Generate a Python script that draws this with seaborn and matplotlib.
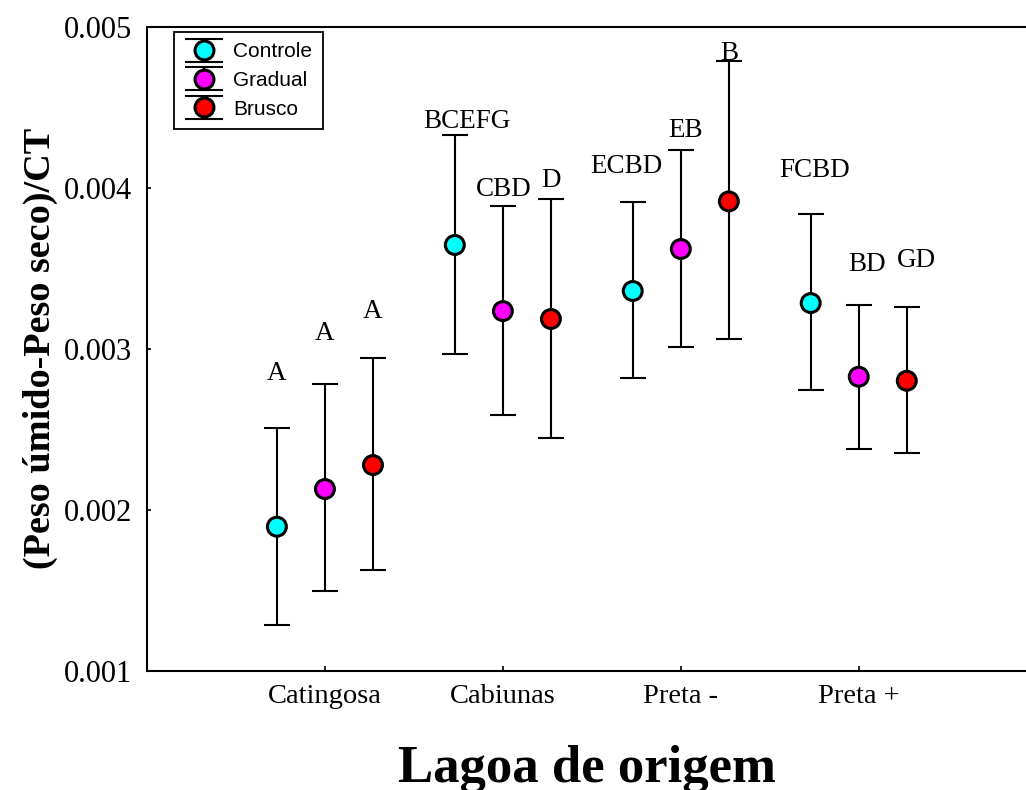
import numpy as np
import pandas as pd
import matplotlib
matplotlib.use("Agg")
import matplotlib.pyplot as plt
import seaborn as sns
from matplotlib.lines import Line2D
from matplotlib.container import ErrorbarContainer
from matplotlib.legend_handler import HandlerErrorbar, HandlerTuple

# ---- data -------------------------------------------------------------
lagoas = ["Catingosa", "Cabiunas", "Preta -", "Preta +"]
tratamentos = ["Controle", "Gradual", "Brusco"]

media_controle = [0.001894, 0.003645, 0.003359, 0.003284]
sup_controle = [0.002505, 0.004328, 0.003910, 0.003835]
inf_controle = [0.001283, 0.002965, 0.002820, 0.002745]

media_gradual = [0.002128, 0.003234, 0.003620, 0.002826]
sup_gradual = [0.002779, 0.003887, 0.004233, 0.003274]
inf_gradual = [0.001494, 0.002588, 0.003011, 0.002375]

media_brusco = [0.002277, 0.003185, 0.003916, 0.002801]
sup_brusco = [0.002944, 0.003930, 0.004788, 0.003257]
inf_brusco = [0.001625, 0.002443, 0.003058, 0.002350]

letras_controle = ["A", "BCEFG", "ECBD", "FCBD"]
letras_gradual = ["A", "CBD", "EB", "BD"]
letras_brusco = ["A", "D", "B", "GD"]

y_ticks = [0.001, 0.002, 0.003, 0.004, 0.005]

# ---- layout / style ----------------------------------------------------
cores = {"Controle": "#00FFFF", "Gradual": "#FF00FF", "Brusco": "#FF0000"}
deslocamento = {"Controle": -0.27, "Gradual": 0.0, "Brusco": 0.27}
# offsets (points) of the letter labels from the top whisker
letra_dx = {"Controle": [0, 8.6, -4.3, 2.9],
            "Gradual": [0, 0.7, 3.6, 5.8],
            "Brusco": [0, 0, 0.7, 7.2]}
letra_dy = {"Controle": [34.6, 5.0, 21.0, 27.0],
            "Gradual": [31.7, 7.2, 9.8, 24.5],
            "Brusco": [28.8, 8.6, 0.7, 29.2]}

medias = {"Controle": media_controle, "Gradual": media_gradual, "Brusco": media_brusco}
sups = {"Controle": sup_controle, "Gradual": sup_gradual, "Brusco": sup_brusco}
infs = {"Controle": inf_controle, "Gradual": inf_gradual, "Brusco": inf_brusco}
letras = {"Controle": letras_controle, "Gradual": letras_gradual, "Brusco": letras_brusco}

linhas = []
for t in tratamentos:
    for i, lag in enumerate(lagoas):
        linhas.append({"lagoa": lag, "tratamento": t,
                       "pos": i + deslocamento[t],
                       "media": medias[t][i], "sup": sups[t][i], "inf": infs[t][i],
                       "letra": letras[t][i],
                       "dx": letra_dx[t][i], "dy": letra_dy[t][i]})
df = pd.DataFrame(linhas)

sns.set_theme(style="ticks")
plt.rcParams["font.family"] = ["Liberation Serif", "DejaVu Serif"]
plt.rcParams["text.color"] = "black"
plt.rcParams["axes.labelcolor"] = "black"
plt.rcParams["xtick.color"] = "black"
plt.rcParams["ytick.color"] = "black"

W, H = 1026, 790
fig = plt.figure(figsize=(W / 100, H / 100), dpi=100)
ax_left, ax_right, ax_top, ax_bottom = 147, 1026, 27, 670.5
ax = fig.add_axes([ax_left / W, 1 - ax_bottom / H,
                   (ax_right - ax_left) / W, (ax_bottom - ax_top) / H])

MS_PT = 13.6
MEW = 2.2

containers = {}
for t in tratamentos:
    d = df[df["tratamento"] == t]
    err = [d["media"] - d["inf"], d["sup"] - d["media"]]
    containers[t] = ax.errorbar(d["pos"], d["media"], yerr=err, fmt="none",
                                ecolor="black", elinewidth=1.5, capsize=9.4,
                                capthick=1.5, zorder=2)

sns.scatterplot(data=df, x="pos", y="media", hue="tratamento",
                hue_order=tratamentos, palette=cores, s=MS_PT ** 2,
                edgecolor="black", linewidth=MEW, legend=False, ax=ax, zorder=3)

for _, r in df.iterrows():
    ax.annotate(r["letra"], xy=(r["pos"], r["sup"]), xytext=(r["dx"], r["dy"]),
                textcoords="offset points", ha="center", va="baseline",
                fontsize=19.5, color="black")

ax.set_xlim(-1.0, 3.94)
ax.set_ylim(0.001, 0.005)
ax.set_xticks(range(len(lagoas)))
ax.set_xticklabels(lagoas)
ax.set_yticks(y_ticks)
ax.set_yticklabels([f"{v:.3f}" for v in y_ticks])
ax.tick_params(axis="x", direction="in", length=3.5, width=1.2, labelsize=20.5,
               pad=10, colors="black")
ax.tick_params(axis="y", direction="in", length=3, width=1.2, labelsize=22,
               pad=11, colors="black")
for side in ["left", "top", "bottom"]:
    ax.spines[side].set_linewidth(1.5)
    ax.spines[side].set_color("black")
ax.spines["right"].set_visible(False)
ax.set_facecolor("white")

ax.set_xlabel("Lagoa de origem", fontsize=38, fontweight="bold")
ax.set_ylabel("(Peso úmido-Peso seco)/CT", fontsize=27.5, fontweight="bold")
ax.xaxis.label.set_va("baseline")
ax.yaxis.label.set_va("center")
ax.xaxis.set_label_coords(0.5, (ax_bottom - 782) / (ax_bottom - ax_top))
ax.yaxis.set_label_coords((40 - ax_left) / (ax_right - ax_left), 0.5)


class CapLargo(HandlerErrorbar):
    def create_artists(self, *args, **kwargs):
        artists = super().create_artists(*args, **kwargs)
        for a in artists:
            if isinstance(a, Line2D) and a.get_marker() == "_":
                a.set_markersize(27)
        return artists


handles = []
for t in tratamentos:
    marcador = Line2D([], [], linestyle="none", marker="o", markersize=MS_PT,
                      markerfacecolor=cores[t], markeredgecolor="black",
                      markeredgewidth=MEW)
    handles.append((containers[t], marcador))

leg = ax.legend(handles, tratamentos,
                handler_map={tuple: HandlerTuple(ndivide=1, pad=0),
                             ErrorbarContainer: CapLargo(xerr_size=0.5, yerr_size=0.55)},
                loc="upper left", bbox_to_anchor=(174 / W, 1 - 32 / H),
                bbox_transform=fig.transFigure, borderaxespad=0,
                frameon=True, fancybox=False, framealpha=1, edgecolor="black",
                prop={"family": "Liberation Sans", "size": 15},
                borderpad=0.5, labelspacing=0.46, handlelength=1.9,
                handletextpad=0.45)
leg.get_frame().set_linewidth(1.3)

fig.savefig("out.png", dpi=100, facecolor="white")
